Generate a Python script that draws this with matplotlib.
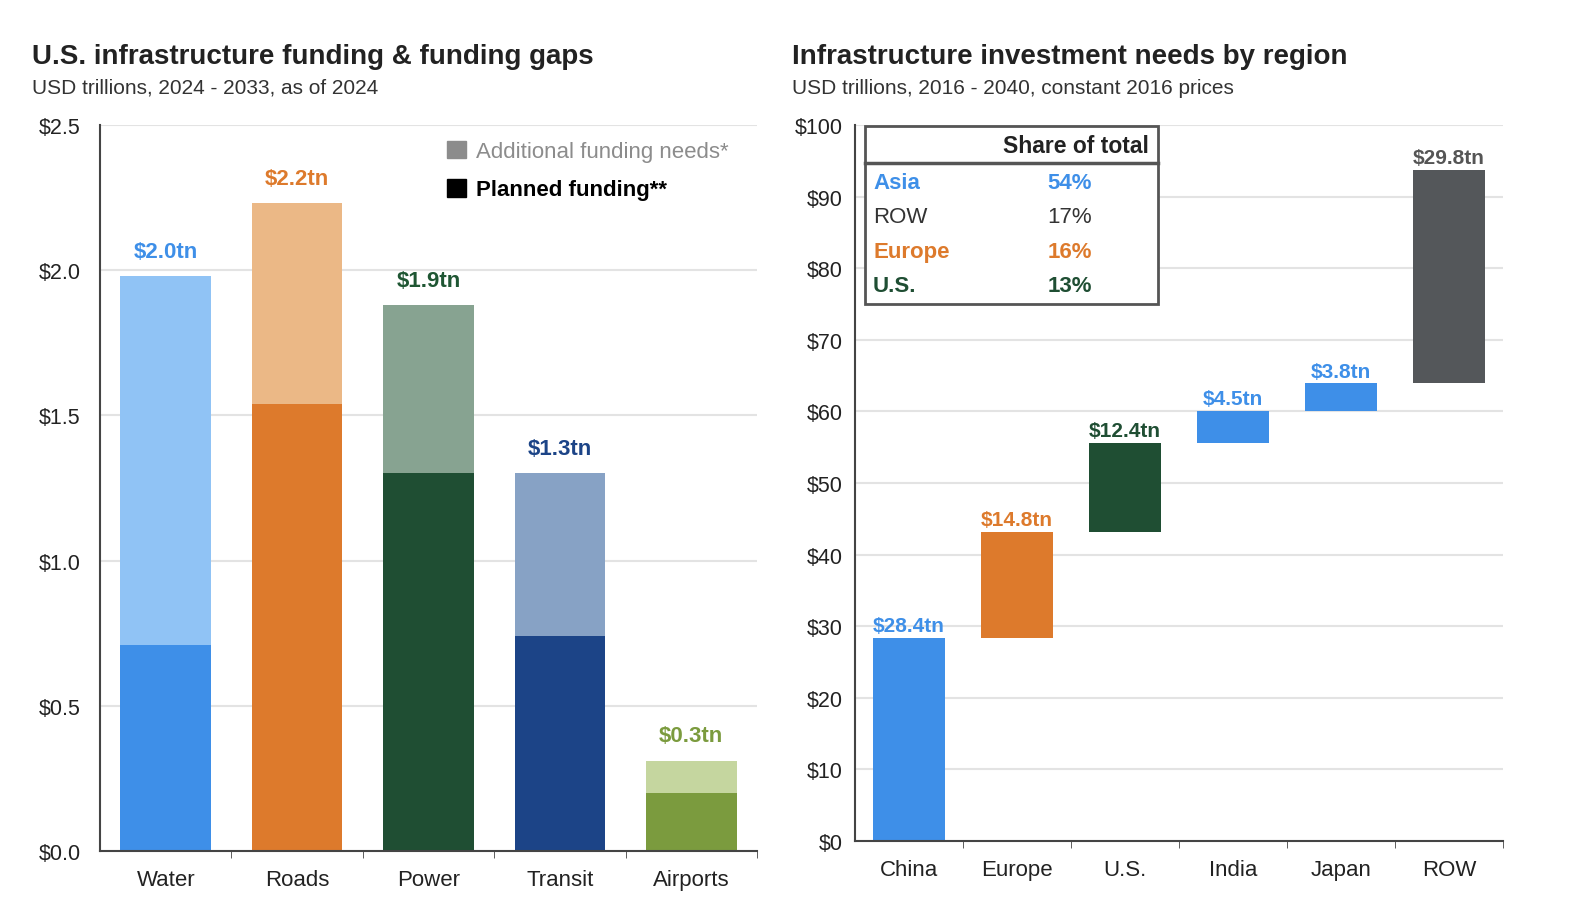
import numpy as np
import matplotlib
matplotlib.use("Agg")
from matplotlib import pyplot as plt
from matplotlib.patches import Patch, Rectangle

plt.rcParams['font.family'] = ['Liberation Sans', 'DejaVu Sans']

# left chart data
sectors = ["Water", "Roads", "Power", "Transit", "Airports"]
planned = [0.71, 1.54, 1.30, 0.74, 0.20]
total_need = [1.98, 2.23, 1.88, 1.30, 0.31]
sector_labels = ["$2.0tn", "$2.2tn", "$1.9tn", "$1.3tn", "$0.3tn"]
dark_cols = ["#3E8FE8", "#DD7A2C", "#1F4E33", "#1C4487", "#7B9B3E"]
light_cols = ["#90C3F5", "#EBB886", "#87A391", "#87A2C5", "#C5D69F"]
label_cols = ["#3E8FE8", "#DD7A2C", "#1F5633", "#1C4487", "#7B9B3E"]

# right chart data
regions = ["China", "Europe", "U.S.", "India", "Japan", "ROW"]
region_need = [28.4, 14.8, 12.4, 4.5, 3.8, 29.8]
region_labels = ["$28.4tn", "$14.8tn", "$12.4tn", "$4.5tn", "$3.8tn", "$29.8tn"]
region_cols = ["#3E8FE8", "#DD7A2C", "#1F4E33", "#3E8FE8", "#3E8FE8", "#54575A"]

share_names = ["Asia", "ROW", "Europe", "U.S."]
share_vals = ["54%", "17%", "16%", "13%"]
share_cols = ["#3E8FE8", "#333333", "#DD7A2C", "#1F4E33"]
share_bold = [True, False, True, True]

fig = plt.figure(figsize=(15.78, 9.12), dpi=100)
axis_col = "#444444"
grid_col = "#E3E3E3"


def style_axis(ax, ypad):
    ax.spines['top'].set_visible(False)
    ax.spines['right'].set_visible(False)
    ax.spines['left'].set_color(axis_col)
    ax.spines['bottom'].set_color(axis_col)
    ax.spines['left'].set_linewidth(1.5)
    ax.spines['bottom'].set_linewidth(1.5)
    ax.yaxis.grid(True, color=grid_col, linewidth=1.5)
    ax.set_axisbelow(True)
    ax.tick_params(axis='y', length=0, labelsize=15.5, colors="#222222",
                   pad=ypad)
    ax.tick_params(axis='x', which='major', length=0, labelsize=16,
                   colors="#222222", pad=13)
    ax.tick_params(axis='x', which='minor', length=5, color=axis_col,
                   direction='out')


# ---- left
ax1 = fig.add_axes([0.0634, 0.0658, 0.4163, 0.796])
x = np.arange(len(sectors))
ax1.bar(x, planned, width=0.69, color=dark_cols)
ax1.bar(x, np.array(total_need) - np.array(planned), bottom=planned,
        width=0.69, color=light_cols)
for i in range(len(sectors)):
    ax1.text(x[i], total_need[i] + 0.05, sector_labels[i], ha='center',
             va='bottom', fontsize=16, fontweight='bold', color=label_cols[i])
ax1.set_xlim(-0.5, 4.5)
ax1.set_ylim(0, 2.5)
ax1.set_yticks(np.arange(0, 2.51, 0.5))
ax1.set_yticklabels(["$%.1f" % v for v in np.arange(0, 2.51, 0.5)])
ax1.set_xticks(x)
ax1.set_xticklabels(sectors)
ax1.set_xticks(np.arange(0.5, 4.6, 1), minor=True)
style_axis(ax1, 14)

handles = [Patch(color="#8C8C8C"), Patch(color="#000000")]
leg = ax1.legend(handles, ["Additional funding needs*", "Planned funding**"],
                 loc='upper left', bbox_to_anchor=(0.505, 1.0), frameon=False,
                 fontsize=16, handlelength=0.85, handleheight=0.85,
                 handletextpad=0.45, labelspacing=0.75, borderpad=0.2)
leg.get_texts()[0].set_color("#8C8C8C")
leg.get_texts()[1].set_fontweight('bold')

fig.text(0.020, 0.93, "U.S. infrastructure funding & funding gaps",
         fontsize=20, fontweight='bold', color="#222222")
fig.text(0.020, 0.897, "USD trillions, 2024 - 2033, as of 2024",
         fontsize=15, color="#333333")

# ---- right
ax2 = fig.add_axes([0.5418, 0.0768, 0.4106, 0.785])
xr = np.arange(len(regions))
bottoms = np.concatenate([[0], np.cumsum(region_need)[:-1]])
ax2.bar(xr, region_need, bottom=bottoms, width=0.67, color=region_cols)
for i in range(len(regions)):
    ax2.text(xr[i], bottoms[i] + region_need[i] + 0.4, region_labels[i],
             ha='center', va='bottom', fontsize=15, fontweight='bold',
             color=region_cols[i] if i < 5 else "#555555")
ax2.set_xlim(-0.5, 5.5)
ax2.set_ylim(0, 100)
ax2.set_yticks(np.arange(0, 101, 10))
ax2.set_yticklabels(["$%d" % v for v in np.arange(0, 101, 10)])
ax2.set_xticks(xr)
ax2.set_xticklabels(regions)
ax2.set_xticks(np.arange(0.5, 5.6, 1), minor=True)
style_axis(ax2, 9)

# share table
tx0, ty0, tw, th = 0.016, 0.75, 0.452, 0.248
ax2.add_patch(Rectangle((tx0, ty0), tw, th, transform=ax2.transAxes,
                        facecolor='white', edgecolor="#555555", linewidth=2,
                        zorder=5))
ax2.plot([tx0, tx0 + tw], [0.947, 0.947], transform=ax2.transAxes,
         color="#555555", linewidth=2.5, zorder=6)
ax2.text(tx0 + tw - 0.015, 0.972, "Share of total", transform=ax2.transAxes,
         ha='right', va='center', fontsize=16.5, fontweight='bold',
         color="#222222", zorder=7)
for i in range(len(share_names)):
    yy = 0.92 - i * 0.048
    w = 'bold' if share_bold[i] else 'normal'
    ax2.text(tx0 + 0.012, yy, share_names[i], transform=ax2.transAxes,
             ha='left', va='center', fontsize=16, fontweight=w,
             color=share_cols[i], zorder=7)
    ax2.text(0.366, yy, share_vals[i], transform=ax2.transAxes,
             ha='right', va='center', fontsize=16, fontweight=w,
             color=share_cols[i], zorder=7)

fig.text(0.502, 0.93, "Infrastructure investment needs by region",
         fontsize=20, fontweight='bold', color="#222222")
fig.text(0.502, 0.897, "USD trillions, 2016 - 2040, constant 2016 prices",
         fontsize=15, color="#333333")

fig.savefig("out.png", dpi=100)
